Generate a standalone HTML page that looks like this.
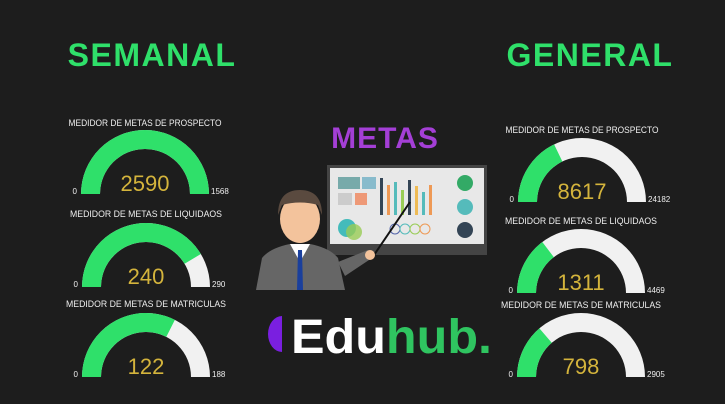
<!DOCTYPE html>
<html><head><meta charset="utf-8"><style>
body{margin:0;background:#1d1d1d;}
svg{display:block;font-family:"Liberation Sans",sans-serif;}
</style></head><body>
<svg id="c" width="725" height="404" viewBox="0 0 725 404">
<rect width="725" height="404" fill="#1d1d1d"/>
<text x="152" y="66" text-anchor="middle" font-size="32" font-weight="bold" fill="#2fe06a" letter-spacing="1.5">SEMANAL</text>
<text x="590" y="66" text-anchor="middle" font-size="32" font-weight="bold" fill="#2fe06a" letter-spacing="1.5">GENERAL</text>
<text x="385" y="148" text-anchor="middle" font-size="30" font-weight="bold" fill="#a43fd6" letter-spacing="1">METAS</text>
<g>
<rect x="327" y="165" width="160" height="90" fill="#444"/>
<rect x="330" y="168" width="154" height="76" fill="#e8e8e8"/>
<rect x="338" y="177" width="22" height="12" fill="#7aa"/><rect x="362" y="177" width="14" height="12" fill="#8bc"/>
<rect x="338" y="193" width="14" height="12" fill="#ccc"/><rect x="355" y="193" width="12" height="12" fill="#e97"/>
<circle cx="347" cy="228" r="9" fill="#4bb"/><circle cx="354" cy="232" r="8" fill="#9c5" opacity=".8"/>
<rect x="380" y="178" width="3" height="37" fill="#345"/><rect x="387" y="185" width="3" height="30" fill="#e95"/><rect x="394" y="182" width="3" height="33" fill="#5bb"/><rect x="401" y="190" width="3" height="25" fill="#9c5"/><rect x="408" y="180" width="3" height="35" fill="#345"/><rect x="415" y="186" width="3" height="29" fill="#eb5"/><rect x="422" y="192" width="3" height="23" fill="#5bb"/><rect x="429" y="185" width="3" height="30" fill="#e95"/>
<circle cx="465" cy="183" r="8" fill="#3a6"/><circle cx="465" cy="207" r="8" fill="#5bb"/><circle cx="465" cy="230" r="8" fill="#345"/>
<circle cx="395" cy="229" r="5" fill="none" stroke="#56a"/><circle cx="405" cy="229" r="5" fill="none" stroke="#5bb"/><circle cx="415" cy="229" r="5" fill="none" stroke="#9c5"/><circle cx="425" cy="229" r="5" fill="none" stroke="#e95"/>
<line x1="410" y1="202" x2="372" y2="258" stroke="#111" stroke-width="2"/>
</g>
<g>
<path d="M256 290 L262 258 Q270 248 290 244 L310 244 Q330 248 338 258 L345 290 Z" fill="#666"/>
<path d="M338 262 L368 250 L372 258 L345 276 Z" fill="#666"/>
<circle cx="370" cy="255" r="5" fill="#f3c39c"/>
<path d="M290 244 L300 262 L310 244 Z" fill="#fff"/><path d="M298 250 L302 250 L303 290 L297 290 Z" fill="#1a3f9c"/>
<ellipse cx="300" cy="219" rx="20" ry="24" fill="#f3c39c"/>
<path d="M278 215 Q278 190 300 190 Q322 190 322 215 L318 205 Q300 200 282 205 Z" fill="#5a4a3f"/>
</g>
<g>
<path d="M282 316 A14 18 0 0 0 282 352 Z" fill="#7a1fe0"/>
<text x="291" y="353" font-size="48" font-weight="bold" fill="#fff" textLength="201" lengthAdjust="spacingAndGlyphs">Edu<tspan fill="#2fc460">hub.</tspan></text>
</g>
</svg>
<script>
const gaugeLabels=["MEDIDOR DE METAS DE PROSPECTO","MEDIDOR DE METAS DE LIQUIDAOS","MEDIDOR DE METAS DE MATRICULAS","MEDIDOR DE METAS DE PROSPECTO","MEDIDOR DE METAS DE LIQUIDAOS","MEDIDOR DE METAS DE MATRICULAS"];
const gaugeValues=[2590,240,122,8617,1311,798];
const gaugeMax=[1568,290,188,24182,4469,2905];
const NS="http://www.w3.org/2000/svg";
const svg=document.getElementById('c');
const layout=[[145,194,122],[146,287,213],[146,377,303],[582,202,129],[581,293,220],[581,377,304]];
const labelW=[153,152,160,153,152,160];
function el(t,a){const e=document.createElementNS(NS,t);for(const k in a)e.setAttribute(k,a[k]);svg.appendChild(e);return e;}
function arc(cx,cy,R,r,f0,f1){
 const a0=Math.PI*(1-f0),a1=Math.PI*(1-f1);
 const p=(rr,a)=>[cx+rr*Math.cos(a),cy-rr*Math.sin(a)];
 const [x0,y0]=p(R,a0),[x1,y1]=p(R,a1),[x2,y2]=p(r,a1),[x3,y3]=p(r,a0);
 return `M${x0} ${y0} A${R} ${R} 0 0 1 ${x1} ${y1} L${x2} ${y2} A${r} ${r} 0 0 0 ${x3} ${y3} Z`;
}
gaugeValues.forEach((v,i)=>{
 const [cx,cy,ly]=layout[i];const R=64,r=45;
 const f=Math.min(1,v/gaugeMax[i]);
 const bg=el('path',{d:arc(cx,cy,R,r,0,1),fill:'#f1f1f1'});
 
 
 const fg=el('path',{d:arc(cx,cy,R,r,0,f),fill:'#2fe06a'});
 
 
 const t=el('text',{x:cx,y:ly+4,'text-anchor':'middle','font-size':'9',fill:'#eee',textLength:labelW[i],lengthAdjust:'spacingAndGlyphs'});t.textContent=gaugeLabels[i];
 
 
 const vt=el('text',{x:cx,y:cy-3,'text-anchor':'middle','font-size':'22',fill:'#d4b43c'});vt.textContent=v;
 
 
 const mn=el('text',{x:cx-R-4,y:cy,'text-anchor':'end','font-size':'8',fill:'#eee'});mn.textContent='0';
 
 
 const mx=el('text',{x:cx+R+2,y:cy,'font-size':'8',fill:'#eee'});mx.textContent=gaugeMax[i];
 
 
});
</script>
</body></html>
